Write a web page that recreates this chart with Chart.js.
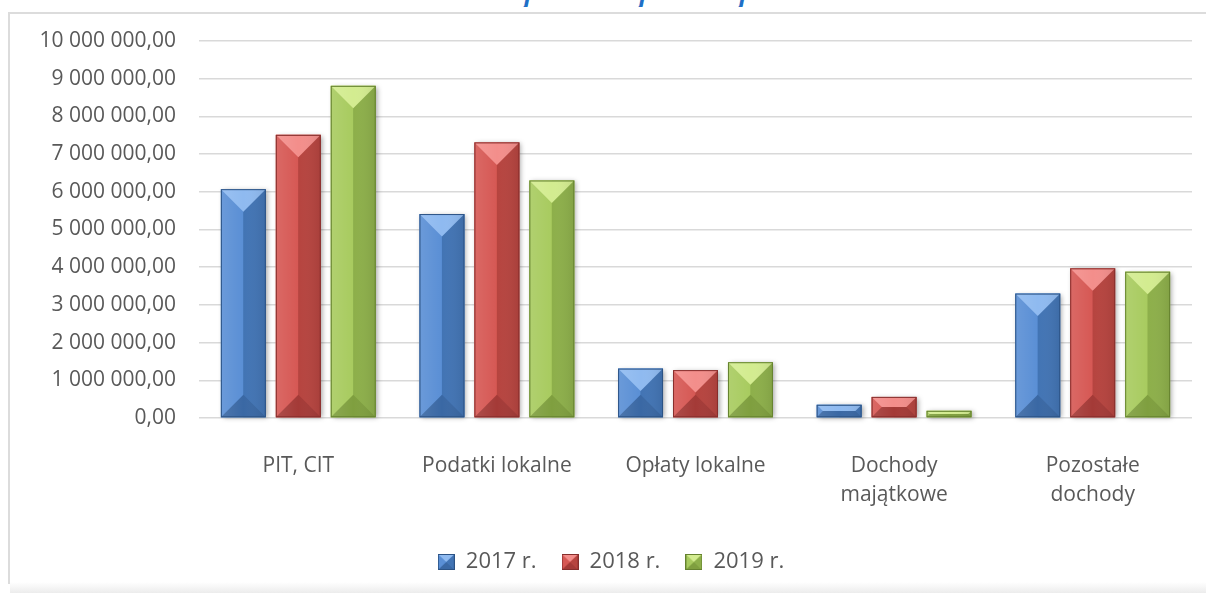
<!DOCTYPE html>
<html>
<head>
<meta charset="utf-8">
<script src="https://cdn.jsdelivr.net/npm/chart.js@4"></script>
<style>
  html, body { margin: 0; padding: 0; background: #fff; }
  #wrap { position: relative; width: 1206px; height: 593px; overflow: hidden; }
  #frame { position: absolute; left: 8px; top: 12px; width: 1196px; height: 570px;
           border-left: 2px solid #dcdcdc; border-top: 2px solid #dcdcdc; border-right: 1px solid #eeeeee; }
  #shade { position: absolute; left: 10px; top: 582px; width: 1196px; height: 11px;
           background: linear-gradient(#ffffff, #ececec); }
  #title { position: absolute; left: 0; top: 0; width: 1206px; height: 7px; overflow: hidden; }
  #title span { position: absolute; top: -22px; font: italic bold 24px "Open Sans"; color: #1f6fc6; }
  canvas { position: absolute; left: 0; top: 0; }
</style>
</head>
<body>
<div id="wrap">
  <div id="frame"></div>
  <div id="shade"></div>
  <div id="title"><span style="left:524px">j</span><span style="left:639px">j</span><span style="left:739px">j</span></div>
  <canvas id="myChart" width="1206" height="593"></canvas>
</div>
<script>
var categories = ['PIT, CIT', 'Podatki lokalne', 'Opłaty lokalne', ['Dochody', 'majątkowe'], ['Pozostałe', 'dochody']];
var years = ['2017 r.', '2018 r.', '2019 r.'];
var values2017 = [6070000, 5410000, 1310000, 350000, 3300000];
var values2018 = [7510000, 7310000, 1270000, 560000, 3970000];
var values2019 = [8810000, 6300000, 1480000, 190000, 3880000];

// base, top facet, left facet, right facet, bottom facet, edge
var palettes = [
    ['#4f81bd', '#8fbaf0', '#5a8fd5', '#4274b4', '#3a68a4', '#2c5385'],
    ['#c0504d', '#f38e8b', '#d65854', '#b6443f', '#a43a37', '#862e2c'],
    ['#9bbb59', '#d3ec90', '#a8cb5f', '#8daf4a', '#7f9f3f', '#65822f']
];

function fmt(v) {
    var s = Math.round(v).toString().replace(/\B(?=(\d{3})+(?!\d))/g, ' ');
    return s + ',00';
}

function legendIcon(p) {
    var c = document.createElement('canvas');
    c.width = 17; c.height = 16;
    var g = c.getContext('2d');
    g.fillStyle = p[2]; g.fillRect(0, 0, 17, 16);
    g.fillStyle = p[1];
    g.beginPath(); g.moveTo(0, 0); g.lineTo(17, 0); g.lineTo(8.5, 8); g.closePath(); g.fill();
    g.fillStyle = p[3];
    g.beginPath(); g.moveTo(17, 0); g.lineTo(17, 16); g.lineTo(8.5, 8); g.closePath(); g.fill();
    g.fillStyle = p[4];
    g.beginPath(); g.moveTo(0, 16); g.lineTo(17, 16); g.lineTo(8.5, 8); g.closePath(); g.fill();
    g.strokeStyle = p[5]; g.lineWidth = 1; g.strokeRect(0.5, 0.5, 16, 15);
    return c;
}

var bevelPlugin = {
    id: 'bevel',
    beforeDatasetsDraw: function(chart) {
        var ctx = chart.ctx;
        ctx.save();
        ctx.shadowColor = 'rgba(0,0,0,0.35)';
        ctx.shadowBlur = 5;
        ctx.shadowOffsetX = 2;
        ctx.shadowOffsetY = 1;
        ctx.fillStyle = '#ffffff';
        chart.data.datasets.forEach(function(ds, i) {
            chart.getDatasetMeta(i).data.forEach(function(bar) {
                var p = bar.getProps(['x', 'y', 'base', 'width'], true);
                ctx.fillRect(p.x - p.width / 2, p.y, p.width, p.base - p.y);
            });
        });
        ctx.restore();
    },
    afterDatasetsDraw: function(chart) {
        var ctx = chart.ctx;
        chart.data.datasets.forEach(function(ds, i) {
            var pal = palettes[i];
            chart.getDatasetMeta(i).data.forEach(function(bar) {
                var p = bar.getProps(['x', 'y', 'base', 'width'], true);
                var x0 = p.x - p.width / 2, x1 = p.x + p.width / 2;
                var y0 = p.y, y1 = p.base;
                var d = Math.min(p.width / 2, (y1 - y0) / 2);
                ctx.save();
                // left facet
                ctx.fillStyle = pal[2];
                ctx.fillRect(x0, y0, p.width / 2, y1 - y0);
                // right facet
                ctx.fillStyle = pal[3];
                ctx.fillRect(p.x, y0, p.width / 2, y1 - y0);
                // top facet
                ctx.fillStyle = pal[1];
                ctx.beginPath();
                ctx.moveTo(x0, y0); ctx.lineTo(x1, y0);
                ctx.lineTo(x1 - d, y0 + d); ctx.lineTo(x0 + d, y0 + d);
                ctx.closePath(); ctx.fill();
                // bottom facet
                ctx.fillStyle = pal[4];
                ctx.beginPath();
                ctx.moveTo(x0, y1); ctx.lineTo(x1, y1);
                ctx.lineTo(x1 - d, y1 - d); ctx.lineTo(x0 + d, y1 - d);
                ctx.closePath(); ctx.fill();
                // soft vertical sheen
                var gr = ctx.createLinearGradient(x0, 0, x1, 0);
                gr.addColorStop(0, 'rgba(255,255,255,0.10)');
                gr.addColorStop(0.5, 'rgba(255,255,255,0.0)');
                gr.addColorStop(1, 'rgba(0,0,0,0.08)');
                ctx.fillStyle = gr;
                ctx.fillRect(x0, y0, p.width, y1 - y0);
                ctx.strokeStyle = pal[5];
                ctx.lineWidth = 1;
                ctx.strokeRect(x0 + 0.5, y0 + 0.5, p.width - 1, y1 - y0 - 1);
                ctx.restore();
            });
        });
    }
};

var ctx = document.getElementById('myChart').getContext('2d');
var datachart = {
    labels: categories,
    datasets: [
        { label: years[0], data: values2017, backgroundColor: palettes[0][0], pointStyle: legendIcon(palettes[0]) },
        { label: years[1], data: values2018, backgroundColor: palettes[1][0], pointStyle: legendIcon(palettes[1]) },
        { label: years[2], data: values2019, backgroundColor: palettes[2][0], pointStyle: legendIcon(palettes[2]) }
    ]
};
var myChart = new Chart(ctx, {
    type: 'bar',
    data: datachart,
    plugins: [bevelPlugin],
    options: {
        responsive: false,
        animation: false,
        events: [],
        categoryPercentage: 0.83,
        barPercentage: 0.818,
        layout: { padding: { left: 30, right: 14, top: 41, bottom: 10 } },
        plugins: {
            tooltip: { enabled: false },
            legend: {
                position: 'bottom',
                labels: {
                    usePointStyle: true,
                    color: '#595959',
                    font: { family: 'Open Sans', size: 22 },
                    padding: 25,
                    boxWidth: 17,
                    boxHeight: 16
                }
            }
        },
        scales: {
            x: {
                grid: { display: false, drawTicks: false },
                border: { display: false },
                ticks: {
                    color: '#595959',
                    padding: 33,
                    maxRotation: 0,
                    autoSkip: false,
                    font: { family: 'Open Sans', size: 21, lineHeight: 1.4 }
                },
                afterFit: function(scale) { scale.height = 108; }
            },
            y: {
                min: 0,
                max: 10000000,
                grid: { color: '#d9d9d9', lineWidth: 1.5, drawTicks: false },
                border: { display: false },
                ticks: {
                    stepSize: 1000000,
                    padding: 23,
                    color: '#595959',
                    font: { family: 'Open Sans', size: 21 },
                    callback: function(v) { return fmt(v); }
                },
                afterFit: function(scale) { scale.width = 169; }
            }
        }
    }
});
</script>
</body>
</html>
